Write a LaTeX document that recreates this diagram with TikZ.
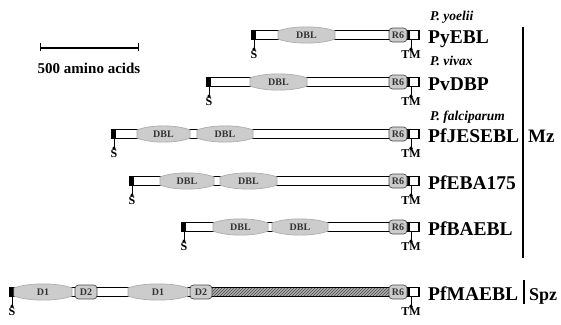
\documentclass[tikz,border=0pt]{standalone}
\usepackage{fontspec}
\setmainfont{Liberation Serif}
\usetikzlibrary{arrows.meta,calc,patterns}
\definecolor{DomClr}{rgb}{0.80,0.80,0.80}
\definecolor{HatchClr}{rgb}{0.68,0.68,0.68}

% one protein: id, y, left end
\newcommand{\EBLbar}[3]{%
  \draw[bar] (#3,#2-4.5) rectangle (408,#2+4.5);
  \fill (#3,#2-4.5) rectangle (#3+4,#2+4.5);
  \draw[tmbox] (409,#2-4.5) rectangle (419,#2+4.5);
  \coordinate (#1-sb) at (#3+2,#2+4.5);
  \coordinate (#1-tb) at (411,#2+4.5);
  \node[sm] (#1-S) at (#3+2,#2+20) {S};
  \node[sm] (#1-TM) at (411,#2+20) {TM};
  \draw[mk] (#1-sb) -- (#1-S.north);
  \draw[mk] (#1-tb) -- (#1-TM.north);
}
% spindle domain: name, x1, x2, y, text
\newcommand{\Spindle}[5]{%
  \draw[dom] (#2,#4-4) .. controls ({#2+(#3-#2)/4},#4-9.5) and ({#3-(#3-#2)/4},#4-9.5) .. (#3,#4-4)
    -- (#3,#4+4) .. controls ({#3-(#3-#2)/4},#4+9.5) and ({#2+(#3-#2)/4},#4+9.5) .. (#2,#4+4) -- cycle;
  \node[domtxt] (#1) at ({(#2+#3)/2},#4) {#5};
}
% small rounded domain: name, x1, x2, y, text
\newcommand{\Knob}[5]{%
  \draw[dom,draw=black!70,rounded corners=3.5pt] (#2,#4-7) rectangle (#3,#4+7);
  \node[domtxt] (#1) at ({(#2+#3)/2},#4) {#5};
}

\begin{document}
\begin{tikzpicture}[x=1pt,y=-1pt,
  bar/.style={draw=black,line width=1.6pt,fill=white},
  tmbox/.style={draw=black,line width=1.4pt,fill=white},
  dom/.style={draw=gray!65,line width=0.7pt,fill=DomClr},
  domtxt/.style={font=\fontsize{10}{10}\selectfont\bfseries,text=black!80,inner sep=0pt},
  mk/.style={line width=1pt,-{Circle[length=3.2pt]}},
  sm/.style={font=\fontsize{12}{12}\selectfont\bfseries,inner sep=0pt},
  pname/.style={font=\fontsize{19.5}{19.5}\selectfont\bfseries,anchor=base west,inner sep=0pt},
  species/.style={font=\fontsize{13.5}{13.5}\selectfont\bfseries\itshape,anchor=base west,inner sep=0pt},
  stage/.style={font=\fontsize{19}{19}\selectfont\bfseries,anchor=base west,inner sep=0pt}]
\useasboundingbox (0,0) rectangle (561,324);

% scale bar
\coordinate (sc1) at (40,48);
\coordinate (sc2) at (138,48);
\draw[line width=1.2pt] (sc1) -- (sc2);
\draw[line width=1pt] ($(sc1)+(0,-5)$) -- ($(sc1)+(0,3)$);
\draw[line width=1pt] ($(sc2)+(0,-5)$) -- ($(sc2)+(0,3)$);
\node[font=\fontsize{15}{15}\selectfont\bfseries] (scl) at (89,68) {500 amino acids};

% PyEBL
\EBLbar{py}{35}{252}
\Spindle{py1}{278}{335}{35}{DBL}
\Knob{pyr}{389}{407}{35}{R6}
\node[pname] (pyn) at (428,43) {PyEBL};
\node[species] (pys) at (430,20) {P. yoelii};

% PvDBP
\EBLbar{pv}{82}{207}
\Spindle{pv1}{250}{307}{82}{DBL}
\Knob{pvr}{389}{407}{82}{R6}
\node[pname] (pvn) at (428,90) {PvDBP};
\node[species] (pvs) at (430,65) {P. vivax};

% PfJESEBL
\EBLbar{je}{134}{112}
\Spindle{je1}{137}{190}{134}{DBL}
\Spindle{je2}{197}{253}{134}{DBL}
\Knob{jer}{389}{407}{134}{R6}
\node[pname] (jen) at (428,142) {PfJESEBL};
\node[species] (jes) at (430,120) {P. falciparum};

% PfEBA175
\EBLbar{eba}{181}{130}
\Spindle{eba1}{160}{214}{181}{DBL}
\Spindle{eba2}{220}{277}{181}{DBL}
\Knob{ebar}{389}{407}{181}{R6}
\node[pname] (eban) at (428,189) {PfEBA175};

% PfBAEBL
\EBLbar{ba}{227}{182}
\Spindle{ba1}{213}{268}{227}{DBL}
\Spindle{ba2}{272}{328}{227}{DBL}
\Knob{bar}{389}{407}{227}{R6}
\node[pname] (ban) at (428,235) {PfBAEBL};

% PfMAEBL
\EBLbar{ma}{292}{10}
\fill[HatchClr] (212,287.5) rectangle (390,296.5);
\fill[pattern=north east lines,pattern color=black!70] (212,287.5) rectangle (390,296.5);
\draw[line width=1.6pt] (212,287.5) -- (390,287.5) (212,296.5) -- (390,296.5);
\Spindle{ma1}{14}{72}{292}{D1}
\Knob{ma2}{75}{97}{292}{D2}
\Spindle{ma3}{128}{188}{292}{D1}
\Knob{ma4}{190}{212}{292}{D2}
\Knob{mar}{389}{407}{292}{R6}
\node[pname] (man) at (428,300) {PfMAEBL};

% stages
\coordinate (mzt) at (523,27);
\coordinate (mzb) at (523,258);
\draw[line width=1.8pt] (mzt) -- (mzb);
\node[stage] (mz) at (528,142) {Mz};
\coordinate (spt) at (524,280);
\coordinate (spb) at (524,304);
\draw[line width=1.8pt] (spt) -- (spb);
\node[stage,font=\fontsize{18}{18}\selectfont\bfseries] (spz) at (529,300) {Spz};

\end{tikzpicture}
\end{document}
